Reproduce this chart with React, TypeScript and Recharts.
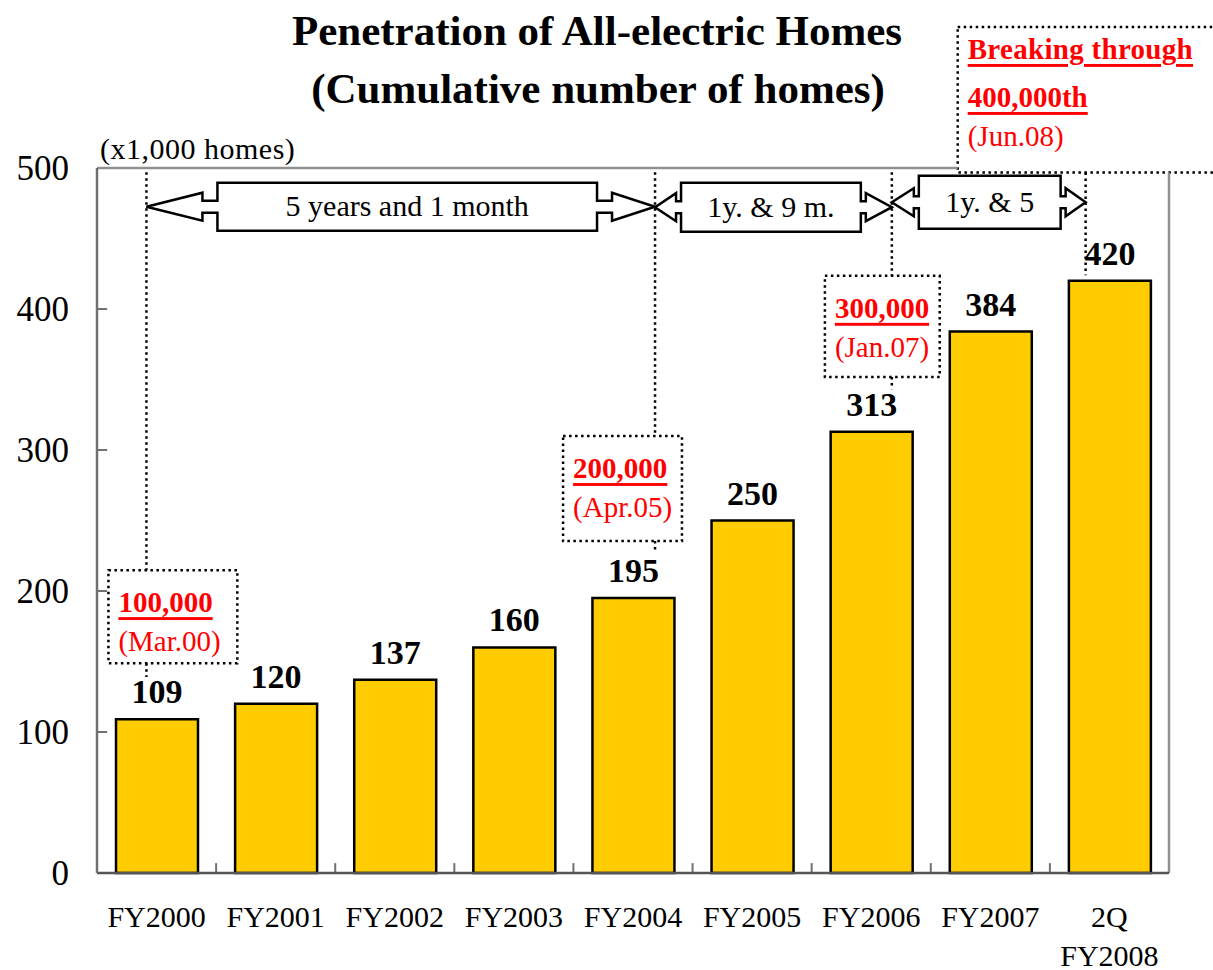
import React from 'react';
import {
  BarChart,
  Bar,
  XAxis,
  YAxis,
  LabelList,
  ReferenceLine,
  ReferenceArea,
} from 'recharts';

const categories = ['FY2000', 'FY2001', 'FY2002', 'FY2003', 'FY2004', 'FY2005', 'FY2006', 'FY2007', '2Q\nFY2008'];
const homes = [109, 120, 137, 160, 195, 250, 313, 384, 420];
const yTicks = [0, 100, 200, 300, 400, 500];
const yearTicks = [0, 1, 2, 3, 4, 5, 6, 7, 8, 9];

// milestones (x = position on the year axis, 0 = start of FY2000)
const milestoneHeads = [['100,000'], ['200,000'], ['300,000'], ['Breaking through', '400,000th']];
const milestoneDates = ['(Mar.00)', '(Apr.05)', '(Jan.07)', '(Jun.08)'];
const milestoneAt = [0.415, 4.685, 6.673, 8.3];
const boxX = [[0.096, 1.178], [3.913, 4.911], [6.111, 7.075], [7.226, 9.5]];
const boxY = [[148.7, 214.8], [235.4, 309.9], [351.8, 423.5], [496.8, 600]];
const leaderEnd = [139, 228, 343, 424];

// intervals between milestones
const spanLabels = ['5 years and 1 month', '1y. & 9 m.', '1y. & 5'];
const spanY = [[455.5, 489.6], [454.8, 489.6], [456.9, 494.5]];
const spanGap = [[71, 58], [26, 31], [27, 25]];
const spanShaft = [15, 5, 5];

const W = 1213;
const H = 970;
const serif = "'Liberation Serif', 'Times New Roman', serif";
const axisGray = '#707070';

const XTick = (props: any) => {
  const { x, y, payload } = props;
  const lines = String(payload.value).split('\n');
  return (
    <g>
      {lines.map((l, i) => (
        <text key={i} x={x} y={y + 43 + i * 39} textAnchor="middle" dominantBaseline="central"
          fontFamily={serif} fontSize={30} fill="#000">{l}</text>
      ))}
    </g>
  );
};

const MilestoneBox = (props: any) => {
  const { x, y, width, height, heads, date } = props;
  const first = heads.length > 1 ? 22 : 32;
  return (
    <g>
      <rect x={x} y={y} width={width} height={height} fill="#fff" stroke="#000"
        strokeWidth={2.5} strokeDasharray="2.5 3.5" />
      {heads.map((h: string, i: number) => (
        <text key={i} x={x + 10} y={y + first + i * 48} dominantBaseline="central" fontFamily={serif}
          fontSize={29} fontWeight="bold" fill="#ff0000" textDecoration="underline"
          letterSpacing={heads.length > 1 && i === 0 ? 0.3 : 0}>{h}</text>
      ))}
      <text x={x + 10} y={y + first + (heads.length - 1) * 48 + 39} dominantBaseline="central"
        fontFamily={serif} fontSize={29} fill="#ff0000">{date}</text>
    </g>
  );
};

const SpanArrow = (props: any) => {
  const { x, y, width, height, label, gap, shaft } = props;
  const bx1 = x + gap[0];
  const bx2 = x + width - gap[1];
  const cy = y + height / 2;
  const s = 6;
  const hh = 14;
  const r = x + width;
  const d = [
    `M${bx1},${y}`, `L${bx2},${y}`, `L${bx2},${cy - s}`, `L${bx2 + shaft},${cy - s}`,
    `L${bx2 + shaft},${cy - hh}`, `L${r},${cy}`, `L${bx2 + shaft},${cy + hh}`,
    `L${bx2 + shaft},${cy + s}`, `L${bx2},${cy + s}`, `L${bx2},${y + height}`,
    `L${bx1},${y + height}`, `L${bx1},${cy + s}`, `L${bx1 - shaft},${cy + s}`,
    `L${bx1 - shaft},${cy + hh}`, `L${x},${cy}`, `L${bx1 - shaft},${cy - hh}`,
    `L${bx1 - shaft},${cy - s}`, `L${bx1},${cy - s}`, 'Z',
  ].join(' ');
  return (
    <g>
      <path d={d} fill="#fff" stroke="#000" strokeWidth={2.5} strokeLinejoin="miter" />
      <text x={(bx1 + bx2) / 2} y={cy - 1} textAnchor="middle" dominantBaseline="central"
        fontFamily={serif} fontSize={30} fill="#000">{label}</text>
    </g>
  );
};

export default function App() {
  const data = categories.map((name, i) => ({ name, value: homes[i] }));
  const dotted = { stroke: '#000', strokeWidth: 2.5, strokeDasharray: '2.5 3.5' };

  return (
    <div style={{ position: 'absolute', left: 0, top: 0, width: W, height: H, background: '#fff' }}>
      <BarChart width={W} height={H} data={data} barSize={82}
        margin={{ top: 168, right: 44, bottom: 37, left: 0 }}>
        <XAxis dataKey="name" height={60} interval={0} tickLine={false} tickSize={0} tickMargin={0}
          axisLine={{ stroke: '#555', strokeWidth: 2.5 }} tick={<XTick />} />
        <XAxis xAxisId="num" dataKey="value" type="number" orientation="top" height={0} domain={[0, 9]}
          ticks={yearTicks} allowDataOverflow axisLine={false} tickLine={false} tick={false} />
        <YAxis domain={[0, 500]} ticks={yTicks} width={97} tickLine={false} tickSize={0} tickMargin={28}
          axisLine={{ stroke: axisGray, strokeWidth: 2.5 }}
          tick={{ fontFamily: serif, fontSize: 35, fill: '#000' }} />

        {/* frame top / right */}
        <ReferenceLine xAxisId="num" segment={[{ x: 0, y: 500 }, { x: boxX[3][0], y: 500 }]}
          stroke="#909090" strokeWidth={2.5} ifOverflow="visible" />
        <ReferenceLine xAxisId="num" segment={[{ x: 9, y: 0 }, { x: 9, y: boxY[3][0] }]}
          stroke="#909090" strokeWidth={2.5} ifOverflow="visible" />

        {/* inward ticks */}
        {yTicks.slice(1, 5).map((v) => (
          <ReferenceLine key={`yt${v}`} xAxisId="num" segment={[{ x: 0, y: v }, { x: 0.085, y: v }]}
            stroke={axisGray} strokeWidth={2} ifOverflow="visible" />
        ))}
        {categories.slice(1).map((c, i) => (
          <ReferenceLine key={`xt${i}`} xAxisId="num" segment={[{ x: i + 1, y: 0 }, { x: i + 1, y: 7 }]}
            stroke={axisGray} strokeWidth={2} ifOverflow="visible" />
        ))}

        {/* dotted leaders */}
        {milestoneAt.map((m, i) => (
          i < 3 ? (
            <ReferenceLine key={`la${i}`} xAxisId="num" segment={[{ x: m, y: 497 }, { x: m, y: boxY[i][1] }]}
              {...dotted} ifOverflow="visible" />
          ) : null
        ))}
        {milestoneAt.map((m, i) => (
          <ReferenceLine key={`lb${i}`} xAxisId="num" segment={[{ x: m, y: boxY[i][0] }, { x: m, y: leaderEnd[i] }]}
            {...dotted} ifOverflow="visible" />
        ))}

        {/* interval arrows */}
        {spanLabels.map((label, i) => (
          <ReferenceArea key={`sp${i}`} xAxisId="num" x1={milestoneAt[i]} x2={milestoneAt[i + 1]}
            y1={spanY[i][0]} y2={spanY[i][1]} ifOverflow="visible"
            shape={(p: any) => <SpanArrow {...p} label={label} gap={spanGap[i]} shaft={spanShaft[i]} />} />
        ))}

        {/* milestone boxes */}
        {milestoneHeads.map((heads, i) => (
          <ReferenceArea key={`mb${i}`} xAxisId="num" x1={boxX[i][0]} x2={boxX[i][1]}
            y1={boxY[i][0]} y2={boxY[i][1]} ifOverflow="visible"
            shape={(p: any) => <MilestoneBox {...p} heads={heads} date={milestoneDates[i]} />} />
        ))}

        <Bar dataKey="value" fill="#FFCC00" stroke="#000" strokeWidth={2.5} isAnimationActive={false}>
          <LabelList dataKey="value" position="top" offset={16}
            style={{ fontFamily: serif, fontSize: 34, fontWeight: 'bold', fill: '#000' }} />
        </Bar>
      </BarChart>

      <svg width={W} height={H} style={{ position: 'absolute', left: 0, top: 0, pointerEvents: 'none' }}>
        <text x={597} y={30} textAnchor="middle" dominantBaseline="central" fontFamily={serif}
          fontSize={43} fontWeight="bold" fill="#000">Penetration of All-electric Homes</text>
        <text x={598} y={88} textAnchor="middle" dominantBaseline="central" fontFamily={serif}
          fontSize={43} fontWeight="bold" fill="#000">(Cumulative number of homes)</text>
        <text x={100} y={148} dominantBaseline="central" fontFamily={serif} fontSize={30}
          letterSpacing={0.5} fill="#000">(x1,000 homes)</text>
      </svg>
    </div>
  );
}
